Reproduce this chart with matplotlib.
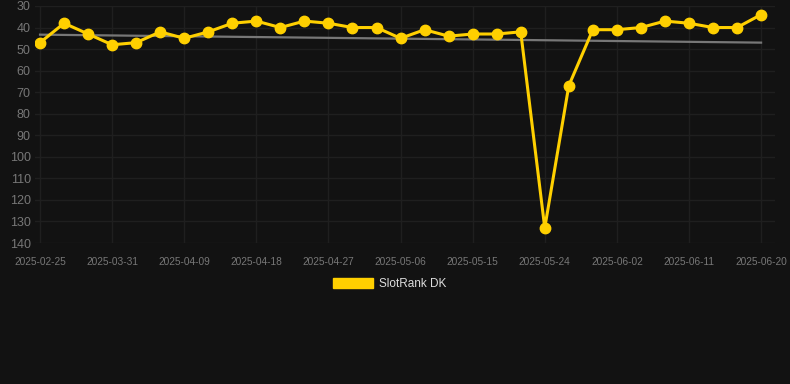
#import packages
import numpy as np
import matplotlib.pyplot as plt
from matplotlib.patches import Patch

#data
dates = ['2025-02-25', '2025-03-25', '2025-03-28', '2025-03-31', '2025-04-03',
         '2025-04-06', '2025-04-09', '2025-04-12', '2025-04-15', '2025-04-18',
         '2025-04-21', '2025-04-24', '2025-04-27', '2025-04-30', '2025-05-03',
         '2025-05-06', '2025-05-09', '2025-05-12', '2025-05-15', '2025-05-18',
         '2025-05-21', '2025-05-24', '2025-05-27', '2025-05-30', '2025-06-02',
         '2025-06-05', '2025-06-08', '2025-06-11', '2025-06-14', '2025-06-17',
         '2025-06-20']
rank = [47, 38, 43, 48, 47, 42, 45, 42, 38, 37,
        40, 37, 38, 40, 40, 45, 41, 44, 43, 43,
        42, 133, 67, 41, 41, 40, 37, 38, 40, 40,
        34]
trend = [43.3, 47.0]   # trend line start / end
series_name = 'SlotRank DK'

bg = '#121212'
yellow = '#FFD000'

fig = plt.figure(figsize=(7.9, 3.84), dpi=100, facecolor=bg)
ax = fig.add_axes([35/790, 1-243/384, 740/790, 237/384], facecolor=bg)

x = np.arange(len(rank))
ax.plot([x[0], x[-1]], trend, color='#777777', lw=1.6, zorder=2)
ax.plot(x, rank, color=yellow, lw=2.2, marker='o', ms=7.5, zorder=3)

ax.set_ylim(140, 30)
ax.set_yticks(np.arange(30, 141, 10))
ax.set_xlim(-0.21, 30.58)
ax.set_xticks(x[::3])
ax.set_xticklabels(dates[::3])

ax.grid(True, color='#1f1f1f', lw=1.0)
ax.set_axisbelow(True)
for s in ax.spines.values():
    s.set_visible(False)
ax.tick_params(axis='both', length=0, colors='#777777')
ax.tick_params(axis='x', labelsize=7.3, pad=10)
ax.tick_params(axis='y', labelsize=9, pad=3)
for lab in ax.get_xticklabels() + ax.get_yticklabels():
    lab.set_fontfamily('Liberation Sans')

#legend below the plot
fig.legend(handles=[Patch(facecolor=yellow, edgecolor=yellow, label=series_name)],
           loc='center', bbox_to_anchor=(0.493, 1-284/384), frameon=False,
           handlelength=3.4, handleheight=1.0, handletextpad=0.5,
           prop={'family': 'Liberation Sans', 'size': 8.5}, labelcolor='#dddddd')

fig.savefig('out.png', dpi=100, facecolor=bg)
